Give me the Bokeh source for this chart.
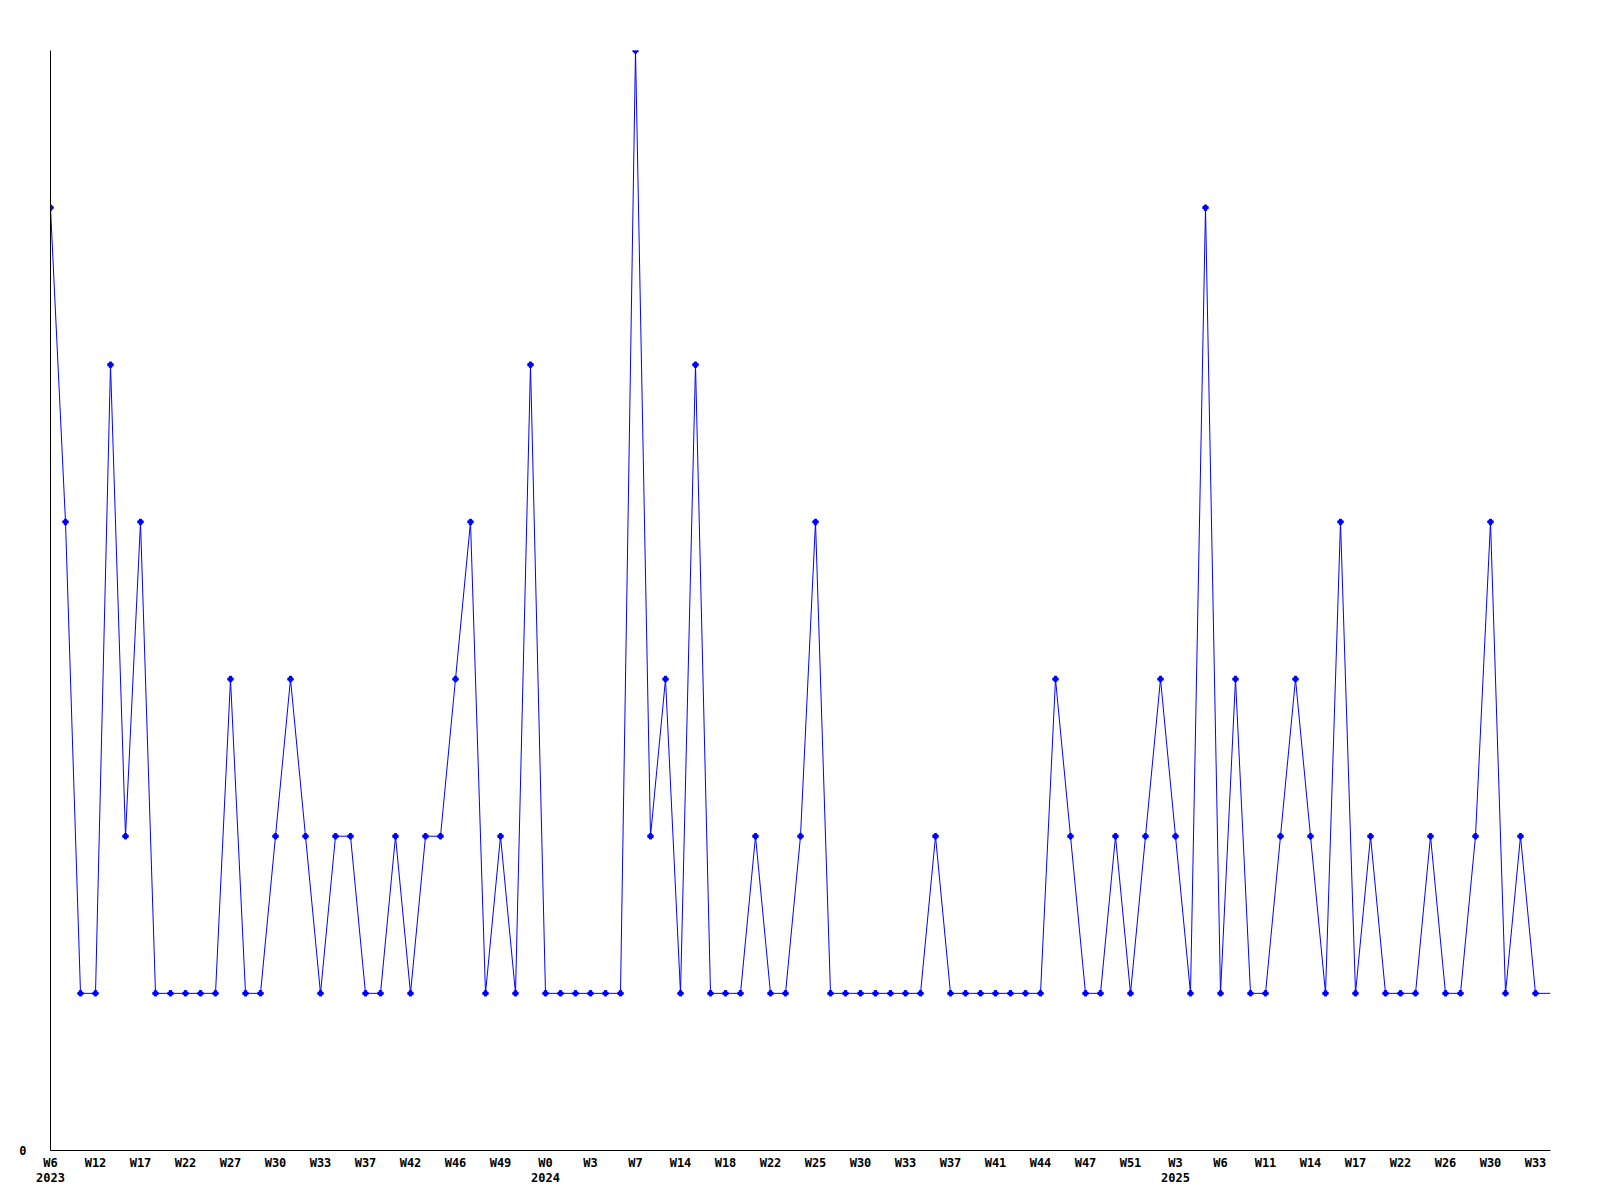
from bokeh.plotting import figure
from bokeh.models import Range1d, FixedTicker, LinearAxis
from bokeh.embed import file_html
from bokeh.resources import INLINE

# weekly counts (one per point, left to right)
values = [6, 4, 1, 1, 5, 2, 4, 1, 1, 1,
          1, 1, 3, 1, 1, 2, 3, 2, 1, 2,
          2, 1, 1, 2, 1, 2, 2, 3, 4, 1,
          2, 1, 5, 1, 1, 1, 1, 1, 1, 7,
          2, 3, 1, 5, 1, 1, 1, 2, 1, 1,
          2, 4, 1, 1, 1, 1, 1, 1, 1, 2,
          1, 1, 1, 1, 1, 1, 1, 3, 2, 1,
          1, 2, 1, 2, 3, 2, 1, 6, 1, 3,
          1, 1, 2, 3, 2, 1, 4, 1, 2, 1,
          1, 1, 2, 1, 1, 2, 4, 1, 2, 1,
          1]
idx = list(range(len(values)))

week_labels = ["W6", "W12", "W17", "W22", "W27", "W30", "W33", "W37", "W42", "W46",
               "W49", "W0", "W3", "W7", "W14", "W18", "W22", "W25", "W30", "W33",
               "W37", "W41", "W44", "W47", "W51", "W3", "W6", "W11", "W14", "W17",
               "W22", "W26", "W30", "W33"]
week_label_pos = list(range(0, 100, 3))
year_labels = ["2023", "2024", "2025"]
year_label_pos = [0, 33, 75]

FONT = "DejaVu Sans Mono"

p = figure(frame_width=1500, frame_height=1100, output_backend="svg",
           toolbar_location=None, x_axis_type=None, y_axis_type=None,
           min_border_left=50, min_border_top=50, min_border_right=42,
           min_border_bottom=5)
p.x_range = Range1d(0, len(values) - 1)
p.y_range = Range1d(0, max(values))
p.grid.visible = False
p.outline_line_color = None
p.background_fill_color = "white"
p.border_fill_color = "white"

p.line(idx, values, line_color="#0000ff", line_width=1)
p.scatter(idx[:-1], values[:-1], marker="plus", size=5, line_color="#0000ff",
          fill_color="#0000ff", line_width=1.5)


def style(ax, standoff):
    ax.major_tick_out = 0
    ax.major_tick_in = 0
    ax.minor_tick_out = 0
    ax.minor_tick_in = 0
    ax.major_label_standoff = standoff
    ax.major_label_text_font = FONT
    ax.major_label_text_font_style = "bold"
    ax.major_label_text_font_size = "12px"
    ax.major_label_text_color = "black"


yaxis = LinearAxis(ticker=FixedTicker(ticks=[0]))
style(yaxis, 24)
yaxis.axis_line_color = "black"
p.add_layout(yaxis, "left")

xaxis = LinearAxis(ticker=FixedTicker(ticks=week_label_pos))
xaxis.major_label_overrides = {pos: lab for pos, lab in zip(week_label_pos, week_labels)}
style(xaxis, 5)
xaxis.axis_line_color = "black"
p.add_layout(xaxis, "below")

yearaxis = LinearAxis(ticker=FixedTicker(ticks=year_label_pos))
yearaxis.major_label_overrides = {pos: lab for pos, lab in zip(year_label_pos, year_labels)}
style(yearaxis, 0)
yearaxis.axis_line_color = None
p.add_layout(yearaxis, "below")

open("out.html", "w").write(file_html(p, INLINE))
